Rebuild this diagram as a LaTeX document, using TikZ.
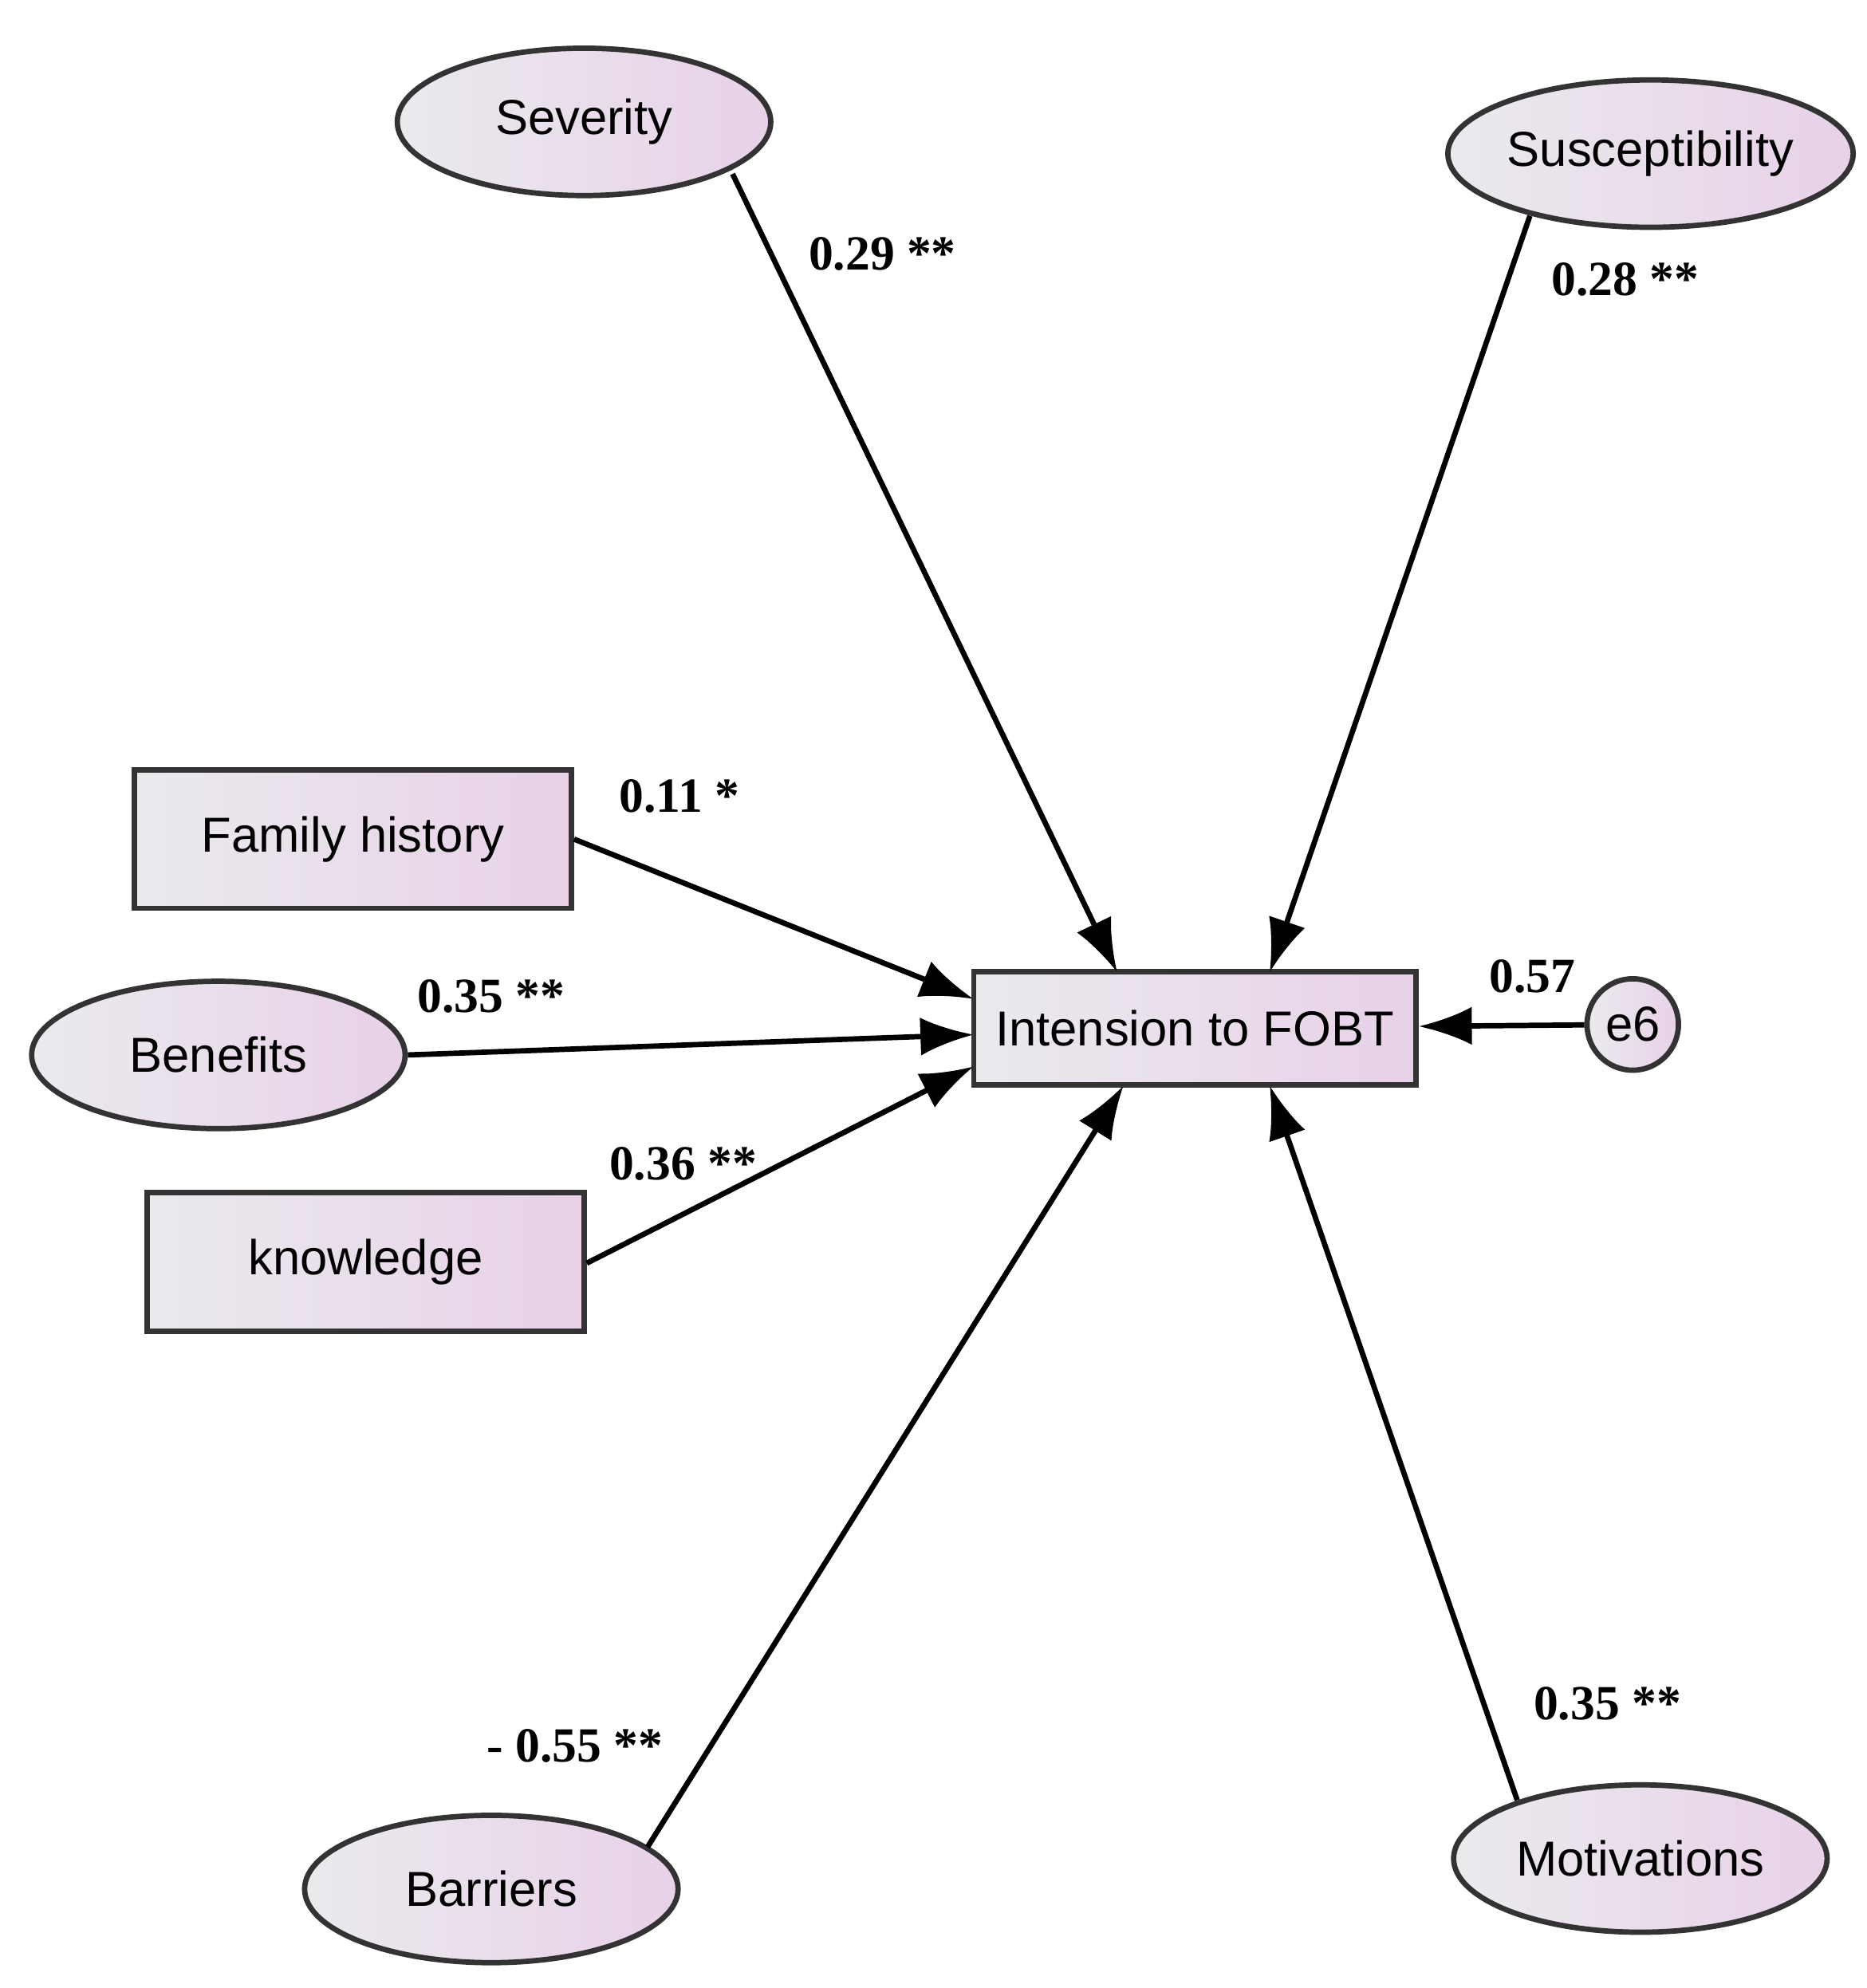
\documentclass[tikz,border=0pt]{standalone}
\usepackage{fontspec}
\setmainfont{Liberation Sans}
\newfontfamily\lab{Liberation Serif}
\usetikzlibrary{arrows.meta,shapes.geometric}
\begin{document}
\begin{tikzpicture}[x=0.01cm,y=-0.01cm,
  base/.style={draw=black!80,line width=1.2pt,left color=blue!8!gray!15,right color=violet!18,font=\fontsize{11}{13}\selectfont,inner sep=0pt},
  lat/.style={base,ellipse,minimum width=2.94cm,minimum height=1.16cm},
  obs/.style={base,rectangle,minimum width=3.44cm,minimum height=1.09cm},
  arr/.style={line width=1.2pt,-{Latex[length=0.42cm,width=0.3cm]}},
  lbl/.style={font=\lab\bfseries\fontsize{11}{13}\selectfont}]
\useasboundingbox (0,0) rectangle (1470,1566);
\node[lat] (sev) at (460,96) {Severity};
\node[lat] (sus) at (1300,121) {Susceptibility};
\node[obs] (fam) at (278,661) {Family history};
\node[lat] (ben) at (172,831) {Benefits};
\node[obs] (kno) at (288,994) {knowledge};
\node[obs,minimum width=3.48cm,minimum height=0.89cm] (int) at (941,810) {Intension to FOBT};
\node[base,circle,minimum size=0.72cm] (e6) at (1286,807) {e6};
\node[lat] (bar) at (387,1488) {Barriers};
\node[lat] (mot) at (1292,1464) {Motivations};
\coordinate (s1) at (577,137);
\coordinate (s2) at (1205,170);
\coordinate (s6) at (510,1455);
\coordinate (s7) at (1195,1418);
\coordinate (t1) at (880,766);
\coordinate (t2) at (1000,766);
\coordinate (t3) at (767,787);
\coordinate (t4) at (767,815);
\coordinate (t5) at (767,840);
\coordinate (t6) at (885,855);
\coordinate (t7) at (1000,855);
\draw[arr] (s1) -- (t1);
\draw[arr] (s2) -- (t2);
\draw[arr] (fam.east) -- (t3);
\draw[arr] (ben.east) -- (t4);
\draw[arr] ([yshift=-0.01cm]kno.east) -- (t5);
\draw[arr] (s6) -- (t6);
\draw[arr] (s7) -- (t7);
\draw[arr] (e6) -- (int);
\node[lbl] (l1) at (695,200) {0.29 **};
\node[lbl] (l2) at (1280,220) {0.28 **};
\node[lbl] (l3) at (535,627) {0.11 *};
\node[lbl] (l4) at (387,785) {0.35 **};
\node[lbl] (l5) at (538,917) {0.36 **};
\node[lbl] (l6) at (1207,769) {0.57};
\node[lbl] (l7) at (453,1375) {- 0.55 **};
\node[lbl] (l8) at (1266,1342) {0.35 **};
\end{tikzpicture}
\end{document}
